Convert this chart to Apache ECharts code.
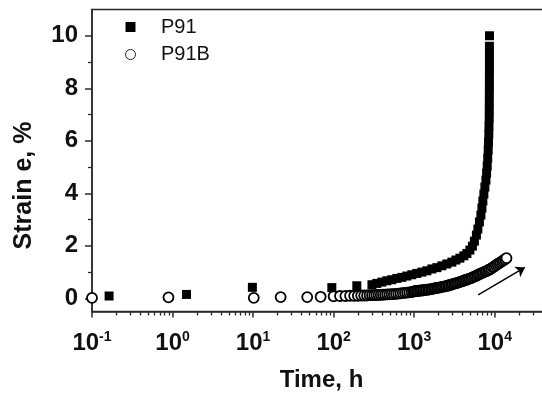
<!DOCTYPE html>
<html>
<head>
<meta charset="utf-8">
<script src="https://cdn.jsdelivr.net/npm/echarts@6/dist/echarts.min.js"></script>
<style>
  html, body { margin: 0; padding: 0; background: #fff; }
  #chart { width: 542px; height: 393px; }
</style>
</head>
<body>
<div id="chart"></div>
<script>
// ---- data ----
const seriesNames = ['P91', 'P91B'];

const p91Time = [0.163, 1.49, 9.8, 95, 194, 299,
  344, 397, 458, 528, 610, 703, 811, 935, 1079, 1247, 1438, 1660, 1914, 2208, 2547, 2938,
  3296, 3698, 4140, 4520, 4920, 5290, 5600, 5930, 6180, 6460, 6740, 6940, 7130, 7340,
  7550, 7780, 7930, 8070, 8190, 8300, 8380, 8450, 8490, 8550, 8560, 8570, 8580, 8590,
  8590, 8600, 8600, 8600, 8600, 8610];
const p91Strain = [0.09, 0.15, 0.42, 0.41, 0.48, 0.52,
  0.57, 0.62, 0.67, 0.71, 0.76, 0.80, 0.85, 0.90, 0.95, 1.00, 1.05, 1.12, 1.17, 1.24, 1.31, 1.38,
  1.46, 1.53, 1.62, 1.71, 1.84, 1.99, 2.18, 2.41, 2.64, 2.91, 3.17, 3.44, 3.71, 3.97,
  4.24, 4.50, 4.77, 5.04, 5.34, 5.65, 5.95, 6.26, 6.56, 6.87, 7.17, 7.47, 7.78, 8.08,
  8.39, 8.69, 9.00, 9.30, 9.60, 10.0];

const p91bTime = [0.1, 0.89, 10.2, 22, 47, 69,
  100, 120, 140, 160, 180, 200, 220, 240, 260, 280, 300, 320, 340, 362, 385, 410, 436, 464, 494, 526,
  560, 596, 635, 676, 720, 767, 817, 870, 926, 970,
  1000, 1045, 1092, 1141, 1193, 1246, 1302, 1361, 1422, 1486, 1553, 1623, 1696, 1772, 1852, 1935,
  2022, 2113, 2208, 2308, 2412, 2520, 2633, 2752, 2876, 3005, 3140, 3282, 3429, 3584, 3745, 3913,
  4089, 4274, 4466, 4667, 4877, 5096, 5326, 5565, 5816, 6077, 6351, 6637, 6935, 7247, 7574, 7914,
  8270, 8643, 9032, 9438, 9863, 10307, 10771, 11255, 11762, 12291, 12844, 13422, 14000];
const p91bStrain = [0.02, 0.04, 0.02, 0.05, 0.05, 0.06,
  0.08, 0.09, 0.09, 0.10, 0.10, 0.10, 0.11, 0.11, 0.11, 0.12, 0.12, 0.12, 0.13, 0.13, 0.13, 0.14, 0.14, 0.15, 0.15, 0.16,
  0.16, 0.17, 0.18, 0.19, 0.20, 0.21, 0.22, 0.23, 0.24, 0.26,
  0.27, 0.28, 0.28, 0.29, 0.30, 0.30, 0.31, 0.32, 0.33, 0.33, 0.34, 0.35, 0.36, 0.38, 0.39, 0.40,
  0.41, 0.42, 0.44, 0.45, 0.46, 0.47, 0.49, 0.50, 0.52, 0.54, 0.56, 0.57, 0.59, 0.61, 0.63, 0.65,
  0.67, 0.69, 0.71, 0.73, 0.75, 0.77, 0.80, 0.83, 0.85, 0.88, 0.91, 0.94, 0.96, 0.99, 1.02, 1.04,
  1.07, 1.10, 1.13, 1.18, 1.21, 1.26, 1.30, 1.33, 1.37, 1.41, 1.45, 1.49, 1.53];

const arrowStart = [6240, 0.13];
const arrowEnd = [23700, 1.18];

const timeMin = 0.1, timeMax = 50000;
const strainMin = -0.5, strainMax = 11;
const strainMajorTicks = [0, 2, 4, 6, 8, 10];
const strainMinorTicks = [1, 3, 5, 7, 9];
const timeMinorTicks = [0.2, 0.3, 0.4, 0.5, 0.6, 0.7, 0.8, 0.9,
  2, 3, 4, 5, 6, 7, 8, 9, 20, 30, 40, 50, 60, 70, 80, 90,
  200, 300, 400, 500, 600, 700, 800, 900, 2000, 3000, 4000, 5000, 6000, 7000, 8000, 9000,
  20000, 30000, 40000];

// ---- chart ----
const zip = (a, b) => a.map((v, i) => [v, b[i]]);
const FONT = 'Liberation Sans';
const AX = '#2a2a2a';

const chart = echarts.init(document.getElementById('chart'), null, { renderer: 'canvas' });
chart.setOption({
  animation: false,
  backgroundColor: '#fff',
  textStyle: { fontFamily: FONT },
  grid: {
    left: 92, top: 9.5, right: -9, bottom: 81.5,
    outerBoundsMode: 'none', containLabel: false,
    show: true, borderColor: AX, borderWidth: 1.5, backgroundColor: 'transparent'
  },
  legend: {
    orient: 'vertical', left: 125, top: 17, padding: 0,
    itemWidth: 51, itemHeight: 10, itemGap: 7.5,
    textStyle: { fontFamily: FONT, fontSize: 20, color: '#111', lineHeight: 20 },
    data: [
      { name: seriesNames[0], icon: 'path://M0 0H10V10H0Z', itemStyle: { color: '#000', borderWidth: 0 } },
      { name: seriesNames[1], icon: 'circle', itemStyle: { color: '#fff', borderColor: '#222', borderWidth: 1 } }
    ]
  },
  xAxis: [{
    type: 'log', logBase: 10, min: timeMin, max: timeMax,
    name: 'Time, h', nameLocation: 'middle', nameGap: 57,
    nameTextStyle: { fontFamily: FONT, fontSize: 24, fontWeight: 'bold', color: '#111' },
    axisLine: { show: true, onZero: false, lineStyle: { color: AX, width: 1.5 } },
    axisTick: { show: true, inside: false, length: 6, lineStyle: { color: AX, width: 1.5 } },
    splitLine: { show: false },
    minorTick: { show: false },
    axisLabel: {
      margin: 19,
      formatter: function (v) {
        const e = Math.log10(v);
        if (Math.abs(e - Math.round(e)) > 1e-6) return '';
        return '{b|10}{s|' + Math.round(e) + '}';
      },
      rich: {
        b: { fontFamily: FONT, fontSize: 24, fontWeight: 'bold', color: '#111', lineHeight: 26 },
        s: { fontFamily: FONT, fontSize: 14, fontWeight: 'bold', color: '#111', lineHeight: 14, verticalAlign: 'top' }
      }
    }
  }, {
    type: 'value', min: Math.log10(timeMin), max: Math.log10(timeMax), position: 'bottom',
    axisLine: { show: false, onZero: false },
    axisLabel: { show: false },
    splitLine: { show: false },
    axisTick: { show: true, length: 4, lineStyle: { color: AX, width: 1.3 },
      customValues: timeMinorTicks.map(Math.log10) }
  }],
  yAxis: [{
    type: 'value', min: strainMin, max: strainMax, position: 'left',
    name: 'Strain e, %', nameLocation: 'middle', nameGap: 55, nameRotate: 90,
    nameTextStyle: { fontFamily: FONT, fontSize: 25, fontWeight: 'bold', color: '#111', padding: [0, 50, 0, 0] },
    axisLine: { show: true, onZero: false, lineStyle: { color: AX, width: 1.5 } },
    axisTick: { show: true, length: 7, lineStyle: { color: AX, width: 1.5 }, customValues: strainMajorTicks },
    axisLabel: { margin: 14, fontFamily: FONT, fontSize: 24, fontWeight: 'bold', color: '#111', customValues: strainMajorTicks },
    splitLine: { show: false }
  }, {
    type: 'value', min: strainMin, max: strainMax, position: 'left', offset: 0,
    axisLine: { show: false, onZero: false },
    axisLabel: { show: false },
    splitLine: { show: false },
    axisTick: { show: true, length: 4, lineStyle: { color: AX, width: 1.3 }, customValues: strainMinorTicks }
  }],
  series: [{
    name: seriesNames[0], type: 'scatter', xAxisIndex: 0, yAxisIndex: 0,
    symbol: 'rect', symbolSize: 9,
    itemStyle: { color: '#000', opacity: 1 },
    data: zip(p91Time, p91Strain)
  }, {
    name: seriesNames[1], type: 'scatter', xAxisIndex: 0, yAxisIndex: 0,
    symbol: 'circle', symbolSize: 10,
    itemStyle: { color: '#fff', borderColor: '#000', borderWidth: 1.8, opacity: 1 },
    data: zip(p91bTime, p91bStrain),
    markLine: {
      silent: true, animation: false,
      symbol: ['none', 'arrow'], symbolSize: 9,
      label: { show: false },
      lineStyle: { color: '#000', width: 1.5, type: 'solid' },
      data: [[{ coord: arrowStart }, { coord: arrowEnd }]]
    }
  }]
});
</script>
</body>
</html>
